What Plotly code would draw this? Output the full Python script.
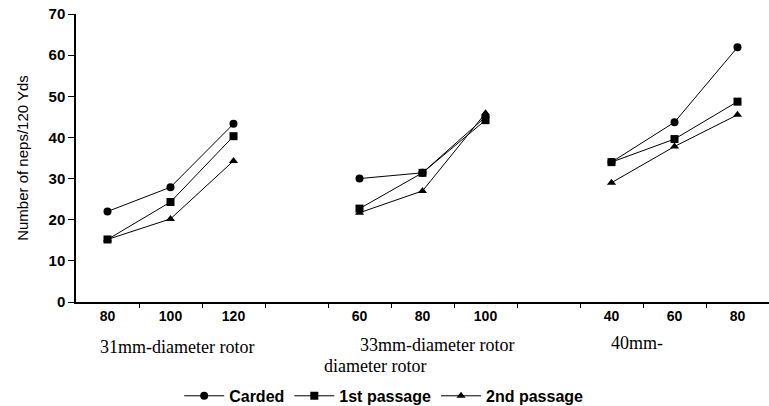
import plotly.graph_objects as go

# Data
groups = ["31mm-diameter rotor", "33mm-diameter rotor", "40mm-"]
speeds = [[80, 100, 120], [60, 80, 100], [40, 60, 80]]
carded = [[22.0, 27.9, 43.3], [30.0, 31.4, 45.0], [34.0, 43.7, 61.9]]
passage1 = [[15.2, 24.3, 40.3], [22.7, 31.4, 44.2], [34.0, 39.6, 48.7]]
passage2 = [[15.2, 20.2, 34.3], [21.7, 27.0, 45.9], [29.0, 37.8, 45.5]]
series_names = ["Carded", "1st passage", "2nd passage"]
series_values = [carded, passage1, passage2]
symbols = ["circle", "square", "triangle-up"]

# category positions (one empty slot between groups)
xpos = []
pos = 0
for gi, sp in enumerate(speeds):
    xpos.append(list(range(pos, pos + len(sp))))
    pos += len(sp) + 1
ncat = pos - 1

fig = go.Figure()
for name, vals, sym in zip(series_names, series_values, symbols):
    for gi in range(len(groups)):
        fig.add_trace(go.Scatter(
            x=xpos[gi], y=vals[gi], mode="lines+markers",
            name=name, legendgroup=name, showlegend=(gi == 0),
            line=dict(color="black", width=1),
            marker=dict(symbol=sym, size=8, color="black"),
        ))

tickvals = [x for g in xpos for x in g]
ticktext = [str(s) for g in speeds for s in g]

fig.update_layout(
    width=769, height=406,
    margin=dict(l=76, r=0, t=14, b=104, autoexpand=False),
    paper_bgcolor="white", plot_bgcolor="white",
    font=dict(family="Arial, Liberation Sans", color="black"),
    showlegend=True,
    legend=dict(orientation="h", x=0.444, xanchor="center", y=-0.326, yanchor="middle",
                font=dict(size=16, family="Arial", weight="bold"),
                itemwidth=40, tracegroupgap=0),
    xaxis=dict(
        range=[-0.5, ncat - 0.5], showgrid=False, zeroline=False,
        showline=True, linecolor="black", linewidth=1.5,
        tickvals=tickvals, ticktext=ticktext, ticks="", ticklen=0,
        tickfont=dict(size=14, family="Arial", weight="bold"),
        minor=dict(tickvals=[i + 0.5 for i in range(ncat - 1)], ticks="outside",
                   ticklen=4, tickcolor="black", showgrid=False),
    ),
    yaxis=dict(
        range=[0, 70], dtick=10, showgrid=False, zeroline=False,
        showline=True, linecolor="black", linewidth=1.5,
        ticks="outside", ticklen=6, tickcolor="black",
        tickfont=dict(size=15, family="Arial", weight="bold"),
        title=dict(text="Number of neps/120 Yds", font=dict(size=15, family="Arial"), standoff=16),
    ),
)

# group labels
label_xs = [1.1, 5.23, 8.4]
label_ys = [-0.156, -0.15, -0.142]
for gi, g in enumerate(groups):
    fig.add_annotation(x=label_xs[gi], y=label_ys[gi], xref="x", yref="paper",
                       text=g, showarrow=False, yanchor="middle",
                       font=dict(size=18, family="Liberation Serif"))
fig.add_annotation(x=4.25, y=-0.222, xref="x", yref="paper", text="diameter rotor",
                   showarrow=False, yanchor="middle",
                   font=dict(size=18, family="Liberation Serif"))

fig.write_html("out.html")
